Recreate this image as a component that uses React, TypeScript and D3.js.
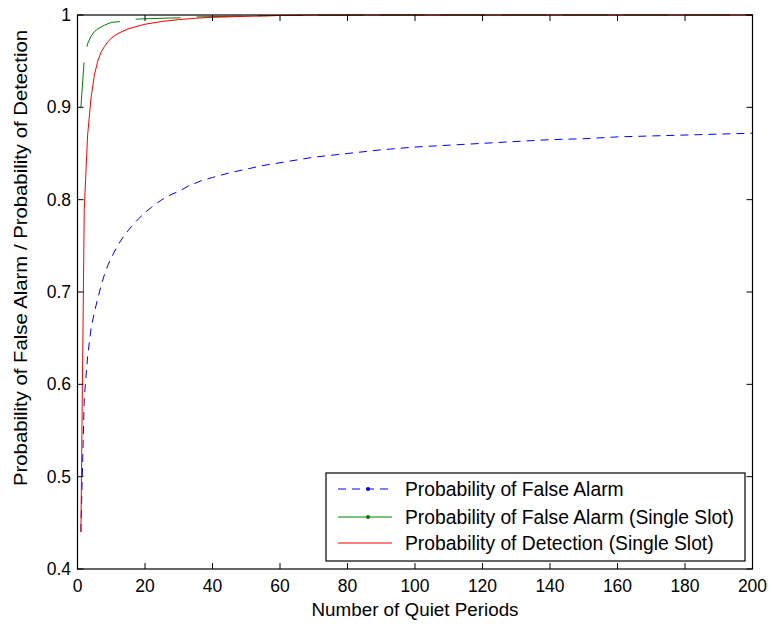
import React from "react";
import * as d3 from "d3";

const xTicks = [0, 20, 40, 60, 80, 100, 120, 140, 160, 180, 200];
const yTicks = [0.4, 0.5, 0.6, 0.7, 0.8, 0.9, 1];

const blueX = [1, 2, 3, 4, 5, 6, 7, 8, 9, 10, 12, 14, 16, 18, 20, 22, 25, 28, 30, 33, 37, 40, 45, 50, 55, 60, 70, 80, 90, 100, 110, 120, 130, 140, 150, 160, 170, 180, 190, 200];
const blueY = [0.44, 0.585, 0.63, 0.66, 0.678, 0.693, 0.707, 0.719, 0.729, 0.737, 0.751, 0.762, 0.771, 0.779, 0.786, 0.792, 0.8, 0.806, 0.809, 0.815, 0.821, 0.824, 0.829, 0.833, 0.837, 0.84, 0.846, 0.85, 0.854, 0.857, 0.859, 0.861, 0.863, 0.865, 0.866, 0.868, 0.869, 0.87, 0.871, 0.872];

const greenX = [1, 2, 3, 4, 5, 6, 8, 10, 13, 17, 25, 31, 36, 50, 60, 80, 97, 200];
const greenY = [0.9, 0.952, 0.969, 0.977, 0.982, 0.985, 0.989, 0.992, 0.993, 0.9955, 0.9965, 0.997, 0.998, 0.9988, 0.9995, 0.9998, 1, 1];

const redX = [1, 2, 3, 4, 5, 6, 7, 8, 9, 10, 12, 15, 18, 20, 25, 30, 35, 40, 50, 55, 60, 70, 200];
const redY = [0.44, 0.79, 0.87, 0.91, 0.935, 0.95, 0.96, 0.966, 0.971, 0.975, 0.98, 0.985, 0.988, 0.99, 0.993, 0.995, 0.9965, 0.9975, 0.9985, 0.999, 0.9995, 1, 1];

const legendLabels = [
  "Probability of False Alarm",
  "Probability of False Alarm (Single Slot)",
  "Probability of Detection (Single Slot)",
];

const FONT = "Arial, 'Liberation Sans', Helvetica, sans-serif";

export default function App() {
  const x = d3.scaleLinear().domain([0, 200]).range([77.5, 752.5]);
  const y = d3.scaleLinear().domain([0.4, 1]).range([569, 15]);
  const line = d3
    .line<[number, number]>()
    .x((d) => x(d[0]))
    .y((d) => y(d[1]));
  const zip = (a: number[], b: number[]) => a.map((v, i) => [v, b[i]] as [number, number]);

  const [x0, x1] = x.range();
  const [y0, y1] = y.range();
  const tl = 6;

  const legendItems = [
    { color: "#0000ff", dash: "8,6", dot: true },
    { color: "#008000", dash: undefined, dot: true },
    { color: "#ff0000", dash: undefined, dot: false },
  ];
  const legendLineY = [489, 517, 543];

  return (
    <svg
      width={772}
      height={624}
      style={{ position: "absolute", left: 0, top: 0, background: "#fff" }}
      fontFamily={FONT}
    >
      <rect x={0} y={0} width={772} height={624} fill="#fff" />
      <path d={line(zip(blueX, blueY)) || ""} fill="none" stroke="#0000ff" strokeWidth={1} strokeDasharray="8,6" />
      <path d={line(zip(greenX, greenY)) || ""} fill="none" stroke="#008000" strokeWidth={1} strokeDasharray="45,16" />
      <path d={line(zip(redX, redY)) || ""} fill="none" stroke="#ff0000" strokeWidth={1} />

      <rect x={x0} y={y1} width={x1 - x0} height={y0 - y1} fill="none" stroke="#000" strokeWidth={1.2} />
      {xTicks.map((t) => (
        <g key={"xt" + t}>
          <line x1={x(t)} x2={x(t)} y1={y0} y2={y0 - tl} stroke="#000" />
          <line x1={x(t)} x2={x(t)} y1={y1} y2={y1 + tl} stroke="#000" />
          <text x={x(t)} y={592} fontSize={17.5} textAnchor="middle" fill="#000">
            {t}
          </text>
        </g>
      ))}
      {yTicks.map((t) => (
        <g key={"yt" + t}>
          <line x1={x0} x2={x0 + tl} y1={y(t)} y2={y(t)} stroke="#000" />
          <line x1={x1} x2={x1 - tl} y1={y(t)} y2={y(t)} stroke="#000" />
          <text x={71} y={y(t) + 6} fontSize={17.5} textAnchor="end" fill="#000">
            {t === 1 ? "1" : t.toFixed(1)}
          </text>
        </g>
      ))}

      <text x={415} y={616} fontSize={18} textAnchor="middle" fill="#000" textLength={207} lengthAdjust="spacingAndGlyphs">
        Number of Quiet Periods
      </text>
      <text
        transform="translate(27,258) rotate(-90)"
        fontSize={18.5}
        textAnchor="middle"
        fill="#000"
        textLength={456}
        lengthAdjust="spacingAndGlyphs"
      >
        Probability of False Alarm / Probability of Detection
      </text>

      <rect x={326} y={473} width={419} height={88} fill="#fff" stroke="#000" strokeWidth={1.2} />
      {legendItems.map((it, i) => (
        <g key={"lg" + i}>
          <line x1={338} x2={392} y1={legendLineY[i]} y2={legendLineY[i]} stroke={it.color} strokeDasharray={it.dash} />
          {it.dot && <circle cx={368} cy={legendLineY[i]} r={2} fill={it.color} />}
          <text x={405} y={legendLineY[i] + 6.5} fontSize={19.3} fill="#000">
            {legendLabels[i]}
          </text>
        </g>
      ))}
    </svg>
  );
}
